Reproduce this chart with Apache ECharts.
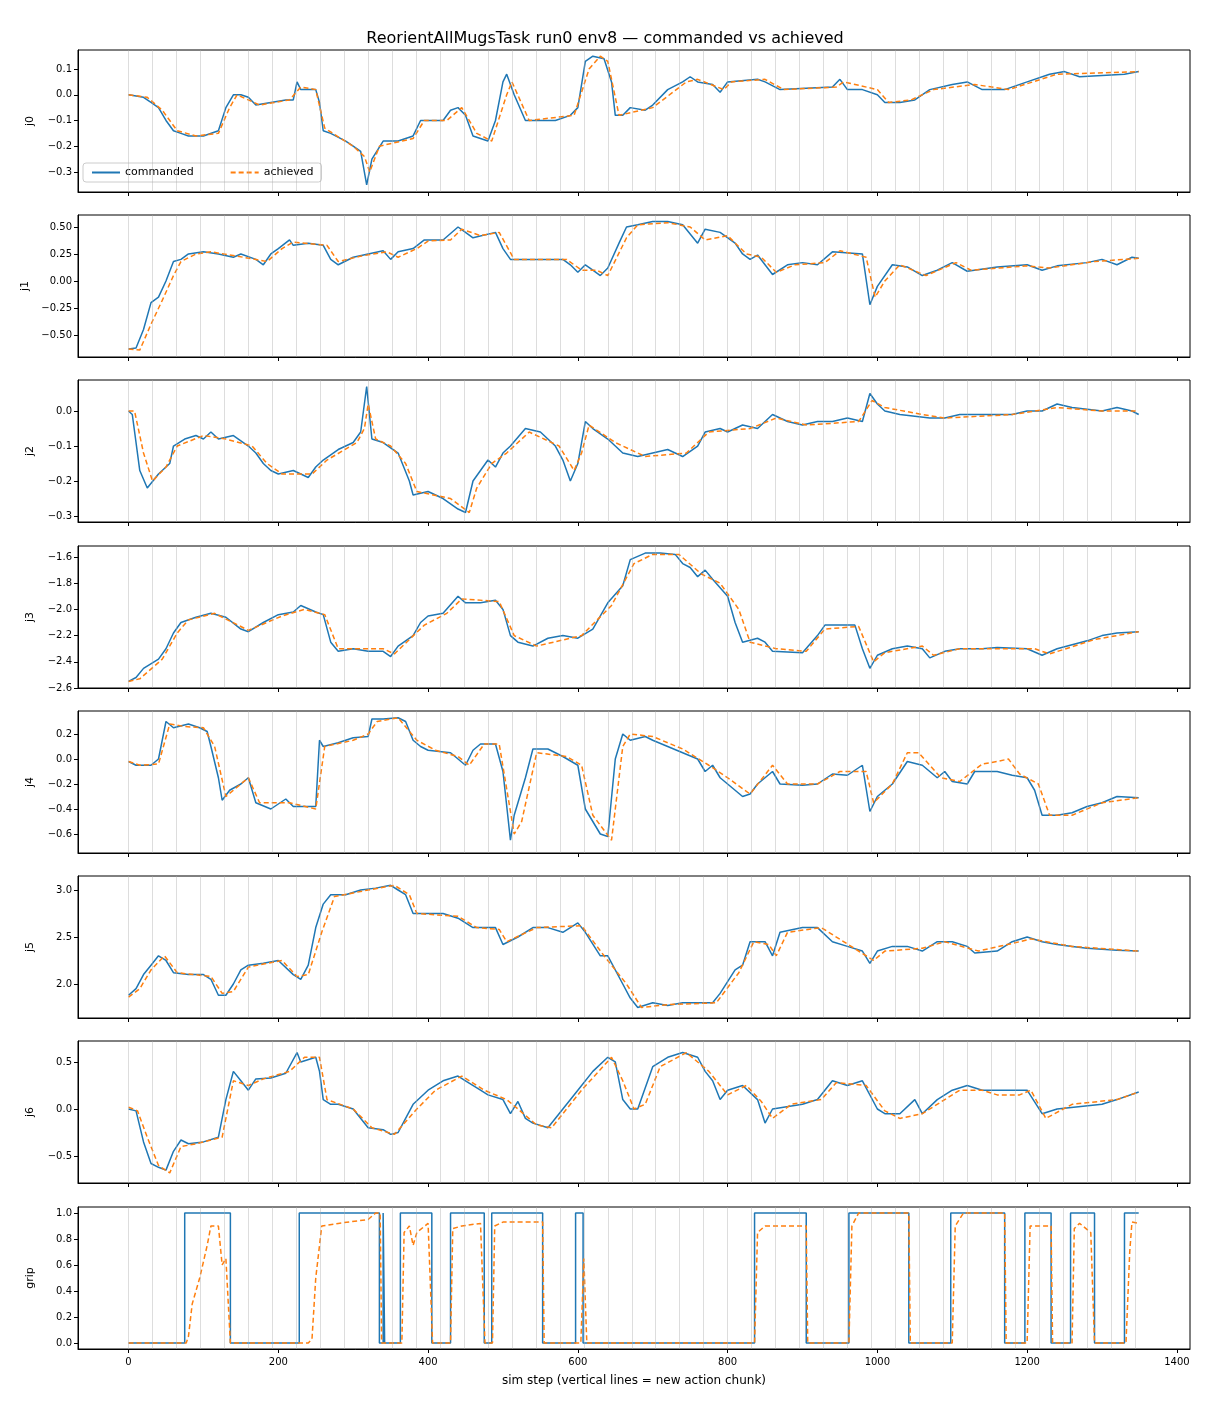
<!DOCTYPE html>
<html>
<head>
<meta charset="utf-8">
<title>commanded vs achieved</title>
<script src="https://cdn.jsdelivr.net/npm/echarts@6/dist/echarts.min.js"></script>
</head>
<body style="margin:0;background:#fff">
<div id="main" style="width:1210px;height:1408px;"></div>
<script type="text/javascript">
// [step, value] pairs
var j0Cmd = [[0,0],[20,-0.01],[30,-0.03],[40,-0.05],[50,-0.1],[60,-0.14],[70,-0.15],[80,-0.16],[100,-0.16],[120,-0.14],[130,-0.05],[140,0.0],[150,0.0],[160,-0.01],[170,-0.04],[190,-0.03],[210,-0.02],[220,-0.02],[225,0.05],[230,0.02],[250,0.02],[255,-0.03],[260,-0.14],[270,-0.15],[290,-0.18],[300,-0.2],[310,-0.22],[318,-0.35],[325,-0.25],[340,-0.18],[360,-0.18],[380,-0.16],[390,-0.1],[420,-0.1],[430,-0.06],[440,-0.05],[450,-0.08],[460,-0.16],[480,-0.18],[490,-0.1],[500,0.05],[505,0.08],[515,0.0],[530,-0.1],[570,-0.1],[590,-0.08],[600,-0.05],[610,0.13],[620,0.15],[635,0.14],[645,0.05],[650,-0.08],[660,-0.08],[670,-0.05],[690,-0.06],[700,-0.04],[720,0.02],[740,0.05],[750,0.07],[760,0.05],[780,0.04],[790,0.01],[800,0.05],[840,0.06],[850,0.05],[870,0.02],[940,0.03],[950,0.06],[960,0.02],[980,0.02],[1000,0.0],[1010,-0.03],[1030,-0.03],[1050,-0.02],[1070,0.02],[1100,0.04],[1120,0.05],[1140,0.02],[1170,0.02],[1200,0.05],[1230,0.08],[1250,0.09],[1270,0.07],[1330,0.08],[1349,0.09]];
var j0Ach = [[0,0],[25,-0.01],[45,-0.06],[65,-0.14],[90,-0.16],[120,-0.15],[135,-0.05],[145,0.0],[175,-0.04],[215,-0.02],[230,0.03],[250,0.02],[262,-0.13],[300,-0.2],[315,-0.24],[322,-0.3],[335,-0.2],[380,-0.17],[395,-0.1],[425,-0.1],[445,-0.05],[465,-0.15],[485,-0.18],[505,0.0],[512,0.05],[535,-0.1],[595,-0.08],[615,0.1],[630,0.15],[640,0.13],[655,-0.08],[700,-0.05],[745,0.05],[760,0.06],[795,0.02],[805,0.05],[850,0.06],[875,0.02],[945,0.03],[955,0.05],[1000,0.02],[1015,-0.03],[1045,-0.02],[1075,0.02],[1130,0.04],[1175,0.02],[1240,0.08],[1349,0.09]];

var j1Cmd = [[0,-0.63],[10,-0.62],[20,-0.45],[30,-0.2],[40,-0.15],[50,0.0],[60,0.18],[70,0.2],[80,0.25],[100,0.27],[120,0.25],[140,0.22],[150,0.25],[170,0.2],[180,0.15],[190,0.25],[200,0.3],[215,0.38],[220,0.33],[240,0.35],[260,0.33],[270,0.2],[280,0.15],[300,0.22],[320,0.25],[340,0.28],[350,0.2],[360,0.27],[380,0.3],[395,0.38],[420,0.38],[440,0.5],[450,0.45],[460,0.4],[490,0.45],[500,0.3],[510,0.2],[580,0.2],[590,0.15],[600,0.08],[610,0.15],[620,0.1],[630,0.05],[640,0.12],[655,0.35],[665,0.5],[680,0.52],[700,0.55],[720,0.55],[740,0.52],[760,0.35],[770,0.48],[790,0.45],[810,0.35],[820,0.25],[830,0.2],[840,0.24],[850,0.15],[860,0.06],[880,0.15],[900,0.17],[920,0.15],[940,0.27],[980,0.25],[990,-0.22],[1000,-0.05],[1020,0.15],[1040,0.13],[1060,0.05],[1080,0.1],[1100,0.17],[1120,0.09],[1160,0.13],[1200,0.15],[1220,0.1],[1240,0.14],[1280,0.17],[1300,0.2],[1320,0.15],[1340,0.22],[1349,0.21]];
var j1Ach = [[0,-0.63],[15,-0.64],[30,-0.4],[45,-0.18],[60,0.05],[70,0.18],[90,0.25],[110,0.27],[145,0.23],[185,0.18],[205,0.3],[220,0.36],[265,0.33],[280,0.18],[310,0.23],[345,0.27],[360,0.22],[385,0.3],[400,0.37],[430,0.38],[445,0.48],[470,0.42],[495,0.45],[515,0.2],[585,0.2],[605,0.1],[625,0.1],[640,0.05],[665,0.4],[680,0.52],[720,0.54],[750,0.5],[770,0.38],[800,0.42],[825,0.25],[845,0.22],[865,0.08],[890,0.15],[930,0.17],[950,0.28],[985,0.22],[997,-0.15],[1010,0.0],[1030,0.15],[1065,0.05],[1105,0.17],[1125,0.1],[1200,0.14],[1230,0.12],[1290,0.18],[1349,0.21]];

var j2Cmd = [[0,0],[5,-0.01],[15,-0.17],[25,-0.22],[40,-0.18],[55,-0.15],[60,-0.1],[75,-0.08],[90,-0.07],[100,-0.08],[110,-0.06],[120,-0.08],[140,-0.07],[160,-0.1],[170,-0.12],[180,-0.15],[190,-0.17],[200,-0.18],[220,-0.17],[240,-0.19],[250,-0.16],[260,-0.14],[280,-0.11],[300,-0.09],[310,-0.06],[318,0.07],[325,-0.08],[340,-0.09],[360,-0.12],[375,-0.2],[380,-0.24],[400,-0.23],[420,-0.25],[440,-0.28],[450,-0.29],[460,-0.2],[470,-0.17],[480,-0.14],[490,-0.16],[500,-0.12],[510,-0.1],[530,-0.05],[550,-0.06],[570,-0.1],[580,-0.14],[590,-0.2],[600,-0.15],[610,-0.03],[620,-0.05],[640,-0.08],[650,-0.1],[660,-0.12],[680,-0.13],[700,-0.12],[720,-0.11],[740,-0.13],[760,-0.1],[770,-0.06],[790,-0.05],[800,-0.06],[820,-0.04],[840,-0.05],[860,-0.01],[880,-0.03],[900,-0.04],[920,-0.03],[940,-0.03],[960,-0.02],[980,-0.03],[990,0.05],[1000,0.02],[1010,0.0],[1030,-0.01],[1070,-0.02],[1090,-0.02],[1110,-0.01],[1180,-0.01],[1200,0.0],[1220,0.0],[1240,0.02],[1260,0.01],[1300,0.0],[1320,0.01],[1340,0.0],[1349,-0.01]];
var j2Ach = [[0,0],[8,0.0],[20,-0.12],[32,-0.2],[50,-0.16],[65,-0.1],[100,-0.07],[130,-0.08],[165,-0.1],[185,-0.15],[205,-0.18],[245,-0.18],[265,-0.14],[305,-0.09],[315,-0.05],[320,0.02],[330,-0.08],[350,-0.1],[370,-0.15],[385,-0.23],[430,-0.25],[455,-0.29],[465,-0.22],[485,-0.15],[505,-0.12],[535,-0.06],[575,-0.1],[595,-0.17],[605,-0.12],[615,-0.04],[650,-0.09],[690,-0.13],[745,-0.12],[775,-0.06],[830,-0.05],[865,-0.02],[905,-0.04],[975,-0.03],[993,0.03],[1010,0.01],[1060,-0.01],[1090,-0.02],[1180,-0.01],[1240,0.01],[1300,0.0],[1349,0.0]];

var j3Cmd = [[0,-2.55],[10,-2.52],[20,-2.45],[40,-2.38],[50,-2.3],[60,-2.18],[70,-2.1],[90,-2.06],[110,-2.03],[130,-2.06],[150,-2.15],[160,-2.17],[180,-2.1],[200,-2.04],[220,-2.02],[230,-1.97],[250,-2.02],[260,-2.04],[270,-2.25],[280,-2.32],[300,-2.3],[320,-2.32],[340,-2.32],[350,-2.36],[360,-2.28],[380,-2.2],[390,-2.1],[400,-2.05],[420,-2.03],[440,-1.9],[450,-1.95],[470,-1.95],[490,-1.93],[500,-2.0],[510,-2.2],[520,-2.25],[540,-2.28],[560,-2.22],[580,-2.2],[600,-2.22],[620,-2.15],[640,-1.95],[660,-1.82],[670,-1.62],[690,-1.57],[710,-1.57],[730,-1.58],[740,-1.65],[750,-1.68],[760,-1.75],[770,-1.7],[780,-1.77],[800,-1.9],[810,-2.1],[820,-2.25],[840,-2.22],[850,-2.25],[860,-2.32],[900,-2.33],[920,-2.2],[930,-2.12],[970,-2.12],[980,-2.3],[990,-2.45],[1000,-2.35],[1020,-2.3],[1040,-2.28],[1060,-2.3],[1070,-2.37],[1090,-2.32],[1110,-2.3],[1140,-2.3],[1160,-2.29],[1200,-2.3],[1220,-2.35],[1240,-2.3],[1260,-2.27],[1280,-2.24],[1300,-2.2],[1320,-2.18],[1349,-2.17]];
var j3Ach = [[0,-2.55],[15,-2.53],[45,-2.38],[65,-2.18],[80,-2.08],[115,-2.03],[160,-2.16],[205,-2.05],[235,-2.0],[262,-2.04],[280,-2.3],[340,-2.3],[355,-2.34],[395,-2.12],[425,-2.03],[445,-1.92],[495,-1.94],[515,-2.2],[545,-2.28],[605,-2.2],[645,-1.97],[675,-1.65],[700,-1.58],[735,-1.58],[765,-1.73],[790,-1.8],[815,-2.0],[830,-2.25],[865,-2.3],[905,-2.32],[930,-2.15],[975,-2.13],[995,-2.4],[1010,-2.33],[1060,-2.28],[1075,-2.35],[1110,-2.3],[1210,-2.3],[1230,-2.34],[1290,-2.23],[1349,-2.17]];

var j4Cmd = [[0,-0.02],[10,-0.05],[30,-0.05],[40,0.0],[50,0.3],[60,0.25],[80,0.28],[95,0.25],[105,0.22],[110,0.1],[120,-0.15],[125,-0.33],[135,-0.25],[150,-0.2],[160,-0.15],[170,-0.35],[190,-0.4],[200,-0.36],[210,-0.32],[220,-0.38],[250,-0.38],[255,0.15],[260,0.1],[280,0.13],[300,0.17],[320,0.18],[325,0.32],[340,0.32],[360,0.33],[370,0.3],[380,0.15],[390,0.1],[400,0.07],[430,0.05],[440,0.0],[450,-0.05],[460,0.07],[470,0.12],[490,0.12],[500,-0.1],[510,-0.65],[515,-0.45],[530,-0.15],[540,0.08],[560,0.08],[580,0.02],[600,-0.05],[610,-0.4],[630,-0.6],[640,-0.62],[650,0.0],[660,0.2],[670,0.15],[690,0.18],[700,0.15],[720,0.1],[740,0.05],[760,0.0],[770,-0.1],[780,-0.05],[790,-0.15],[800,-0.2],[820,-0.3],[830,-0.28],[840,-0.2],[860,-0.1],[870,-0.2],[900,-0.21],[920,-0.2],[940,-0.12],[960,-0.13],[980,-0.05],[990,-0.42],[1000,-0.3],[1020,-0.2],[1040,-0.02],[1060,-0.05],[1080,-0.15],[1090,-0.1],[1100,-0.18],[1120,-0.2],[1130,-0.1],[1160,-0.1],[1180,-0.13],[1200,-0.15],[1210,-0.25],[1220,-0.45],[1240,-0.45],[1260,-0.43],[1280,-0.38],[1300,-0.35],[1320,-0.3],[1349,-0.31]];
var j4Ach = [[0,-0.02],[15,-0.05],[40,-0.04],[55,0.28],[75,0.26],[100,0.25],[115,0.1],[130,-0.3],[160,-0.15],[175,-0.35],[215,-0.35],[250,-0.4],[262,0.1],[300,0.15],[320,0.2],[332,0.3],[360,0.33],[385,0.15],[410,0.07],[440,0.02],[455,-0.05],[475,0.12],[495,0.12],[515,-0.6],[525,-0.5],[545,0.05],[585,0.02],[605,-0.05],[620,-0.45],[645,-0.65],[660,0.1],[670,0.2],[700,0.18],[740,0.08],[775,-0.05],[800,-0.15],[830,-0.28],[860,-0.05],[880,-0.2],[920,-0.2],[950,-0.1],[985,-0.1],[995,-0.35],[1020,-0.2],[1040,0.05],[1055,0.05],[1085,-0.15],[1110,-0.18],[1140,-0.04],[1160,-0.02],[1175,0.0],[1190,-0.12],[1215,-0.2],[1230,-0.45],[1260,-0.45],[1300,-0.35],[1349,-0.31]];

var j5Cmd = [[0,1.88],[10,1.95],[20,2.1],[30,2.2],[40,2.3],[50,2.25],[60,2.12],[80,2.1],[100,2.1],[110,2.05],[120,1.88],[130,1.88],[140,2.0],[150,2.15],[160,2.2],[180,2.22],[200,2.25],[220,2.1],[230,2.05],[240,2.2],[250,2.6],[260,2.85],[270,2.95],[290,2.95],[310,3.0],[330,3.02],[350,3.05],[360,3.0],[370,2.95],[380,2.75],[420,2.75],[440,2.7],[460,2.6],[490,2.6],[500,2.42],[520,2.5],[540,2.6],[560,2.6],[580,2.55],[600,2.65],[610,2.55],[630,2.3],[640,2.3],[660,2.0],[670,1.85],[680,1.75],[700,1.8],[720,1.77],[740,1.8],[780,1.8],[790,1.9],[810,2.15],[820,2.2],[830,2.45],[850,2.45],[860,2.3],[870,2.55],[900,2.6],[920,2.6],[940,2.45],[960,2.4],[980,2.35],[990,2.22],[1000,2.35],[1020,2.4],[1040,2.4],[1060,2.35],[1080,2.45],[1100,2.45],[1120,2.4],[1130,2.33],[1160,2.35],[1180,2.45],[1200,2.5],[1220,2.45],[1240,2.42],[1260,2.4],[1280,2.38],[1300,2.37],[1320,2.36],[1349,2.35]];
var j5Ach = [[0,1.86],[15,1.95],[30,2.15],[48,2.3],[65,2.12],[110,2.08],[125,1.9],[140,1.92],[160,2.18],[205,2.25],[225,2.08],[240,2.1],[258,2.55],[275,2.93],[320,3.0],[355,3.05],[375,2.95],[385,2.75],[440,2.72],[465,2.6],[495,2.58],[505,2.45],[545,2.6],[605,2.62],[635,2.3],[665,2.0],[685,1.75],[720,1.78],[785,1.8],[815,2.12],[835,2.45],[855,2.42],[865,2.3],[880,2.55],[925,2.6],[965,2.4],[995,2.25],[1010,2.35],[1060,2.38],[1090,2.45],[1135,2.35],[1190,2.45],[1205,2.48],[1260,2.4],[1349,2.35]];

var j6Cmd = [[0,0.0],[10,-0.02],[20,-0.35],[30,-0.58],[40,-0.62],[50,-0.65],[60,-0.45],[70,-0.33],[80,-0.37],[100,-0.35],[120,-0.3],[130,0.1],[140,0.4],[150,0.3],[160,0.2],[170,0.32],[190,0.33],[210,0.38],[225,0.6],[230,0.5],[250,0.55],[255,0.4],[260,0.1],[270,0.05],[280,0.05],[300,0.0],[320,-0.2],[340,-0.22],[350,-0.27],[360,-0.25],[370,-0.1],[380,0.05],[400,0.2],[420,0.3],[440,0.35],[450,0.3],[470,0.2],[480,0.15],[500,0.1],[510,-0.05],[520,0.08],[530,-0.1],[540,-0.15],[560,-0.2],[580,0.0],[600,0.2],[620,0.4],[640,0.55],[650,0.5],[660,0.1],[670,0.0],[680,0.0],[700,0.45],[720,0.55],[740,0.6],[760,0.55],[770,0.4],[780,0.3],[790,0.1],[800,0.2],[820,0.25],[840,0.1],[850,-0.15],[860,0.0],[900,0.05],[920,0.1],[940,0.3],[960,0.25],[980,0.3],[1000,0.0],[1010,-0.05],[1030,-0.05],[1050,0.1],[1060,-0.05],[1080,0.1],[1100,0.2],[1120,0.25],[1140,0.2],[1200,0.2],[1220,-0.05],[1240,0.0],[1300,0.05],[1320,0.1],[1349,0.18]];
var j6Ach = [[0,0.02],[12,-0.02],[25,-0.3],[40,-0.6],[55,-0.68],[70,-0.4],[90,-0.37],[125,-0.3],[140,0.3],[160,0.25],[180,0.32],[215,0.4],[235,0.55],[255,0.55],[265,0.1],[300,0.0],[325,-0.2],[355,-0.27],[385,0.0],[410,0.2],[445,0.35],[475,0.2],[505,0.1],[520,0.0],[545,-0.17],[565,-0.2],[605,0.2],[645,0.55],[660,0.3],[675,0.0],[690,0.05],[710,0.45],[745,0.6],[775,0.4],[800,0.15],[825,0.25],[845,0.08],[860,-0.1],[885,0.05],[925,0.1],[945,0.28],[985,0.25],[1010,-0.02],[1030,-0.1],[1060,-0.05],[1110,0.2],[1140,0.2],[1160,0.15],[1190,0.15],[1205,0.2],[1225,-0.1],[1260,0.05],[1320,0.1],[1349,0.18]];

var gripCmd = [[0,0],[75,0],[75,1],[136,1],[136,0],[228,0],[228,1],[335,1],[335,0],[340,0],[340,1],[342,1],[342,0],[363,0],[363,1],[405,1],[405,0],[430,0],[430,1],[475,1],[475,0],[485,0],[485,1],[553,1],[553,0],[597,0],[597,1],[607,1],[607,0],[836,0],[836,1],[905,1],[905,0],[962,0],[962,1],[1042,1],[1042,0],[1098,0],[1098,1],[1170,1],[1170,0],[1197,0],[1197,1],[1232,1],[1232,0],[1258,0],[1258,1],[1290,1],[1290,0],[1330,0],[1330,1],[1349,1]];
var gripAch = [[0,0],[77,0],[80,0.05],[85,0.3],[95,0.5],[105,0.75],[110,0.9],[120,0.9],[125,0.6],[130,0.65],[136,0.0],[240,0.0],[245,0.03],[250,0.5],[258,0.9],[280,0.92],[320,0.95],[330,1.0],[336,1.0],[338,0.0],[365,0.0],[368,0.85],[375,0.9],[380,0.75],[385,0.85],[400,0.92],[406,0.0],[430,0.0],[433,0.88],[445,0.9],[470,0.92],[476,0.0],[486,0.0],[489,0.9],[500,0.93],[553,0.93],[555,0.0],[604,0.0],[608,0.65],[612,0.0],[836,0.0],[840,0.85],[850,0.9],[905,0.9],[907,0.0],[962,0.0],[966,0.9],[975,1.0],[1042,1.0],[1044,0.0],[1100,0.0],[1104,0.9],[1115,1.0],[1170,1.0],[1172,0.0],[1200,0.0],[1204,0.9],[1232,0.9],[1234,0.0],[1260,0.0],[1263,0.88],[1270,0.92],[1285,0.85],[1290,0.0],[1332,0.0],[1337,0.7],[1340,0.93],[1349,0.92]];

var chunkStarts = [0,32,64,96,128,160,192,224,256,288,320,352,384,416,448,480,512,544,576,608,640,672,704,736,768,800,832,864,896,928,960,992,1024,1056,1088,1120,1152,1184,1216,1248,1280,1312,1344];

var panelNames = ['j0','j1','j2','j3','j4','j5','j6','grip'];
var yMin = [-0.378,-0.704,-0.317,-2.6,-0.752,1.638,-0.787,-0.046];
var yMax = [0.174,0.611,0.0886,-1.516,0.384,3.149,0.723,1.046];
var yTicks = [
    [-0.3,-0.2,-0.1,0.0,0.1],
    [-0.5,-0.25,0.0,0.25,0.5],
    [-0.3,-0.2,-0.1,0.0],
    [-2.6,-2.4,-2.2,-2.0,-1.8,-1.6],
    [-0.6,-0.4,-0.2,0.0,0.2],
    [2.0,2.5,3.0],
    [-0.5,0.0,0.5],
    [0.0,0.2,0.4,0.6,0.8,1.0]
];
var yDigits = [1, 2, 1, 1, 1, 1, 1, 1];
var cmdData = [j0Cmd, j1Cmd, j2Cmd, j3Cmd, j4Cmd, j5Cmd, j6Cmd, gripCmd];
var achData = [j0Ach, j1Ach, j2Ach, j3Ach, j4Ach, j5Ach, j6Ach, gripAch];
var xTicks = [0,200,400,600,800,1000,1200,1400];

var tops = [50,215,380,546,711,876,1041,1207];
var grids = [], xAxes = [], yAxes = [], series = [];
var axisLine = { show: true, onZero: false, lineStyle: { color: '#000', width: 1 } };

function fmtY(d) {
    return function (v) { return (v < 0 ? '\u2212' : '') + Math.abs(v).toFixed(d); };
}

for (var i = 0; i < 8; i++) {
    grids.push({ left: 78, right: 20, top: tops[i], height: 142, show: true, borderColor: '#000', borderWidth: 1 });
    var last = (i === 7);
    xAxes.push({
        type: 'value', gridIndex: i, min: -67.5, max: 1417.5,
        axisLine: axisLine,
        axisTick: { show: true, length: 4, lineStyle: { color: '#000' }, customValues: xTicks },
        axisLabel: { show: last, customValues: xTicks, formatter: function (v) { return String(v); },
            fontSize: 10, color: '#000', fontFamily: 'DejaVu Sans' },
        splitLine: { show: false },
        name: last ? 'sim step (vertical lines = new action chunk)' : '',
        nameLocation: 'middle', nameGap: 26,
        nameTextStyle: { fontSize: 12, color: '#000', fontFamily: 'DejaVu Sans' }
    });
    yAxes.push({
        type: 'value', gridIndex: i, min: yMin[i], max: yMax[i],
        axisLine: axisLine,
        axisTick: { show: true, length: 4, lineStyle: { color: '#000' }, customValues: yTicks[i] },
        axisLabel: { customValues: yTicks[i], formatter: fmtY(yDigits[i]), fontSize: 10, color: '#000', fontFamily: 'DejaVu Sans', margin: 6 },
        splitLine: { show: false },
        name: panelNames[i], nameLocation: 'middle', nameGap: 42, nameRotate: 90,
        nameTextStyle: { fontSize: 11, color: '#000', fontFamily: 'DejaVu Sans' }
    });
    series.push({
        name: 'commanded', type: 'line', xAxisIndex: i, yAxisIndex: i,
        data: cmdData[i], symbol: 'none', animation: false, z: 3,
        lineStyle: { color: '#1f77b4', width: 1.5 }, itemStyle: { color: '#1f77b4' },
        markLine: {
            silent: true, symbol: 'none', label: { show: false },
            lineStyle: { color: '#aaaaaa', type: 'solid', width: 0.8, opacity: 0.5 },
            data: chunkStarts.map(function (s) { return { xAxis: s }; })
        }
    });
    series.push({
        name: 'achieved', type: 'line', xAxisIndex: i, yAxisIndex: i,
        data: achData[i], symbol: 'none', animation: false, z: 4,
        lineStyle: { color: '#ff7f0e', width: 1.5, type: [5, 3] }, itemStyle: { color: '#ff7f0e' }
    });
}

var chart = echarts.init(document.getElementById('main'));
chart.setOption({
    backgroundColor: '#fff',
    animation: false,
    title: { text: 'ReorientAllMugsTask run0 env8 — commanded vs achieved', left: 'center', top: 26,
        textStyle: { fontSize: 16, fontWeight: 'normal', color: '#000', fontFamily: 'DejaVu Sans' } },
    legend: {
        data: ['commanded', 'achieved'], left: 83, top: 163, orient: 'horizontal',
        backgroundColor: '#fff', borderColor: '#ccc', borderWidth: 1, borderRadius: 3, padding: [4, 8],
        itemWidth: 28, itemHeight: 8, itemGap: 36,
        itemStyle: { opacity: 0 },
        textStyle: { fontSize: 11, color: '#000', fontFamily: 'DejaVu Sans' }
    },
    grid: grids, xAxis: xAxes, yAxis: yAxes, series: series
});
</script>
</body>
</html>
